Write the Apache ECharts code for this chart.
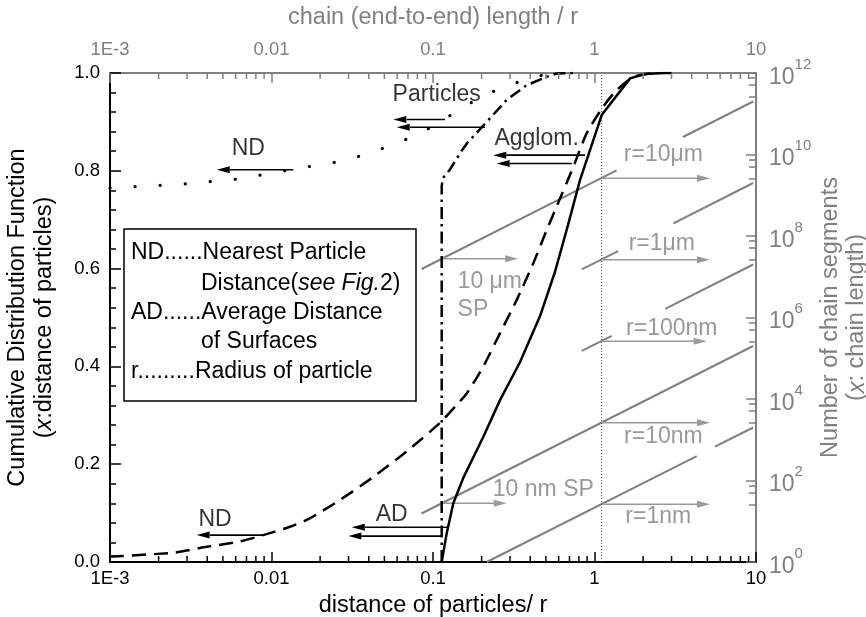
<!DOCTYPE html>
<html><head><meta charset="utf-8">
<script src="https://cdn.jsdelivr.net/npm/echarts@6/dist/echarts.min.js"></script>
<style>html,body{margin:0;padding:0;background:#fff;width:866px;height:617px;overflow:hidden}#c{width:866px;height:617px}</style>
</head><body><div id="c"></div>
<script>
// ---------- tick labels ----------
const xTickLabels = ['1E-3', '0.01', '0.1', '1', '10'];
const yTickLabels = ['0.0', '0.2', '0.4', '0.6', '0.8', '1.0'];
const xDecades = [0.001, 0.01, 0.1, 1];
const xMinorMultipliers = [2, 3, 4, 5, 6, 7, 8, 9];

// ---------- curves (left axis, CDF) ----------
// ND: nearest particle distance (dotted)
const ndX = [0.001, 0.00133, 0.00195, 0.00283, 0.00416, 0.0061, 0.00885, 0.0130, 0.0181, 0.0266, 0.0389, 0.0542, 0.0793, 0.0958, 0.140, 0.170, 0.195, 0.248, 0.360, 0.48, 0.6];
const ndY = [0.765, 0.767, 0.770, 0.773, 0.778, 0.783, 0.792, 0.802, 0.810, 0.819, 0.834, 0.851, 0.873, 0.888, 0.921, 0.938, 0.951, 0.965, 0.985, 0.996, 1.0];
// AD: average distance of surfaces (dashed)
const adX = [0.001, 0.00247, 0.00397, 0.00638, 0.00889, 0.0130, 0.0170, 0.0266, 0.0427, 0.0687, 0.110, 0.140, 0.162, 0.205, 0.260, 0.330, 0.418, 0.506, 0.583, 0.739, 0.895, 1.13, 1.37, 1.74, 2.30];
const adY = [0.011, 0.019, 0.031, 0.042, 0.055, 0.072, 0.088, 0.127, 0.174, 0.226, 0.284, 0.321, 0.345, 0.400, 0.468, 0.536, 0.611, 0.679, 0.727, 0.808, 0.877, 0.931, 0.965, 0.992, 1.0];
// dash-dot curve
const ddX = [0.1132, 0.1132, 0.1150, 0.127, 0.147, 0.162, 0.215, 0.286, 0.380, 0.505, 0.583, 0.75];
const ddY = [0.0, 0.768, 0.785, 0.802, 0.836, 0.856, 0.900, 0.945, 0.975, 0.992, 0.999, 1.0];
// solid curve
const solidX = [0.1132, 0.1216, 0.1336, 0.154, 0.205, 0.260, 0.346, 0.460, 0.569, 0.685, 0.813, 1.108, 1.66, 2.05, 2.73, 3.0];
const solidY = [0.0, 0.059, 0.120, 0.172, 0.256, 0.331, 0.409, 0.503, 0.593, 0.689, 0.781, 0.914, 0.989, 0.998, 1.0, 1.0];
// thin vertical reference line
const refLineX = [1.108, 1.108];
const refLineY = [0, 1];

// ---------- chain-segment lines (right axis) ----------
const chainSegX = [
  [0.085, 1.37], [3.53, 9.6],      // r=10um
  [0.834, 1.40], [3.08, 9.6],      // r=1um
  [0.834, 1.28], [2.74, 9.6],      // r=100nm
  [0.085, 9.6],                    // r=10nm
  [0.215, 4.30], [5.57, 9.6]       // r=1nm
];
const chainSegN = [
  [1.55e7, 4.07e9], [2.69e10, 2.0e11],
  [1.51e7, 4.27e7], [2.04e8, 2.0e9],
  [1.51e5, 3.55e5], [1.62e6, 2.0e7],
  [15.5, 2.0e5],
  [1, 398], [676, 2000]
];

// ---------- arrows ----------
const blackArrowTail = [0.1186, 0.210, 0.01365, 0.873, 0.723, 0.1245, 0.1132, 0.00889];
const blackArrowHead = [0.0568, 0.0596, 0.00458, 0.236, 0.248, 0.0314, 0.0299, 0.00344];
const blackArrowY    = [0.905, 0.889, 0.802, 0.832, 0.815, 0.071, 0.053, 0.055];
const grayArrowTail = [1.108, 1.108, 1.108, 1.108, 1.108, 0.1132, 0.1132];
const grayArrowHead = [5.19, 5.19, 4.95, 5.19, 5.19, 0.337, 0.286];
const grayArrowN    = [2.63e9, 2.63e7, 2.63e5, 2630, 26.3, 2.75e7, 27.5];

// ---------- annotations ----------
const blackLabelText = ['Particles', 'ND', 'Agglom.', 'AD', 'ND'];
const blackLabelX = [0.1054, 0.00718, 0.438, 0.0555, 0.00447];
const blackLabelY = [0.955, 0.846, 0.866, 0.096, 0.086];
const grayLabelText = ['r=10μm', 'r=1μm', 'r=100nm', 'r=10nm', 'r=1nm', '10 nm SP'];
const grayLabelX = [2.67, 2.61, 3.01, 2.67, 2.48, 0.482];
const grayLabelN = [1.0e10, 6.6e7, 5.4e5, 1190, 12.9, 58.5];
const grayLeftLabelText = ['10 μm', 'SP'];
const grayLeftLabelX = [0.141, 0.141];
const grayLeftLabelN = [7.6e6, 1.52e6];

const legendLines = ['ND......Nearest Particle', '{n|Distance(}{i|see Fig.}{n|2)}', 'AD......Average Distance', 'of Surfaces', 'r.........Radius of particle'];

// ---------- build ----------
const FONT = 'Liberation Sans, Arial, Helvetica, sans-serif';
const GRAY = '#808080';
const zip = (a, b) => a.map((v, i) => [v, b[i]]);
const xMinorTicks = [];
xDecades.forEach(d => xMinorMultipliers.forEach(m => xMinorTicks.push([d * m, 0])));

function arrowRenderer(color, width, headLen, headHalf) {
  return function (params, api) {
    const p1 = api.coord([api.value(0), api.value(2)]);
    const p2 = api.coord([api.value(1), api.value(2)]);
    const dir = p2[0] < p1[0] ? -1 : 1;
    const bx = p2[0] - dir * headLen;
    return { type: 'group', children: [
      { type: 'line', shape: { x1: p1[0], y1: p1[1], x2: bx, y2: p2[1] }, style: { stroke: color, lineWidth: width } },
      { type: 'polygon', shape: { points: [[p2[0], p2[1]], [bx, p2[1] - headHalf], [bx, p2[1] + headHalf]] }, style: { fill: color } }
    ] };
  };
}

const series = [];
chainSegX.forEach((sx, i) => {
  series.push({ type: 'line', xAxisIndex: 0, yAxisIndex: 1, showSymbol: false, symbol: 'none', silent: true, z: 2,
    data: zip(sx, chainSegN[i]), lineStyle: { color: GRAY, width: 2 } });
});
series.push({ type: 'line', xAxisIndex: 0, yAxisIndex: 0, symbol: 'none', silent: true, z: 2,
  data: zip(refLineX, refLineY), lineStyle: { color: '#444', width: 1, type: [1, 2] } });
series.push({ type: 'line', name: 'ND', symbol: 'none', z: 4, data: zip(ndX, ndY),
  lineStyle: { color: '#000', width: 3.2, type: [0.1, 25], cap: 'round' } });
series.push({ type: 'line', name: 'AD', symbol: 'none', z: 4, smooth: 0.2, data: zip(adX, adY),
  lineStyle: { color: '#000', width: 2.5, type: [14, 8] } });
series.push({ type: 'line', name: 'dashdot', symbol: 'none', z: 4, data: zip(ddX, ddY),
  lineStyle: { color: '#000', width: 2.5, type: [12, 5, 2.5, 5] } });
series.push({ type: 'line', name: 'solid', symbol: 'none', z: 4, data: zip(solidX, solidY),
  lineStyle: { color: '#000', width: 2.5 } });
series.push({ type: 'custom', xAxisIndex: 0, yAxisIndex: 0, z: 5, silent: true, clip: false,
  encode: { x: [0, 1], y: 2 },
  data: blackArrowTail.map((t, i) => [t, blackArrowHead[i], blackArrowY[i]]),
  renderItem: arrowRenderer('#000', 1.6, 13, 3.5) });
series.push({ type: 'custom', xAxisIndex: 0, yAxisIndex: 1, z: 3, silent: true, clip: false,
  encode: { x: [0, 1], y: 2 },
  data: grayArrowTail.map((t, i) => [t, grayArrowHead[i], grayArrowN[i]]),
  renderItem: arrowRenderer('#9a9a9a', 1.5, 13, 3.5) });
series.push({ type: 'custom', xAxisIndex: 0, yAxisIndex: 0, z: 6, silent: true, clip: false,
  encode: { x: 0, y: 1 }, data: xMinorTicks,
  renderItem: function (params, api) {
    const v = api.value(0);
    const b = api.coord([v, 0]);
    const t = api.coord([v, 1]);
    return { type: 'group', children: [
      { type: 'line', shape: { x1: b[0], y1: b[1], x2: b[0], y2: b[1] - 6 }, style: { stroke: '#000', lineWidth: 1.5 } },
      { type: 'line', shape: { x1: t[0], y1: t[1], x2: t[0], y2: t[1] + 6 }, style: { stroke: GRAY, lineWidth: 1.5 } }
    ] };
  } });
const labelSeries = (texts, xs, ys, yIdx, color, align) => ({
  type: 'scatter', xAxisIndex: 0, yAxisIndex: yIdx, symbolSize: 1, silent: true, z: 7,
  itemStyle: { color: 'transparent' },
  data: texts.map((t, i) => ({ name: t, value: [xs[i], ys[i]] })),
  label: { show: true, position: align === 'left' ? 'right' : 'inside', distance: 0, formatter: '{b}',
    fontSize: 23, color: color, fontFamily: FONT }
});
series.push(labelSeries(blackLabelText, blackLabelX, blackLabelY, 0, '#000'));
series.push(labelSeries(grayLabelText, grayLabelX, grayLabelN, 1, GRAY));
series.push(labelSeries(grayLeftLabelText, grayLeftLabelX, grayLeftLabelN, 1, GRAY, 'left'));

const xFmt = v => xTickLabels[Math.round(Math.log10(v)) + 3];
const option = {
  animation: false,
  textStyle: { fontFamily: FONT },
  grid: { left: 110, right: 110, top: 73, bottom: 55, containLabel: false, outerBoundsMode: 'none' },
  xAxis: [
    { type: 'log', logBase: 10, min: 0.001, max: 10, interval: 1, position: 'bottom',
      axisLine: { onZero: false, lineStyle: { color: '#000', width: 2 } },
      axisTick: { inside: true, length: 10, lineStyle: { color: '#000', width: 1.5 } },
      minorTick: { show: false }, splitLine: { show: false },
      axisLabel: { color: '#000', fontSize: 18.5, margin: 7, formatter: xFmt, hideOverlap: false },
      name: 'distance of particles/ r', nameLocation: 'middle', nameGap: 32,
      nameTextStyle: { fontSize: 23.5, color: '#000' } },
    { type: 'log', logBase: 10, min: 0.001, max: 10, interval: 1, position: 'top',
      axisLine: { onZero: false, lineStyle: { color: GRAY, width: 2 } },
      axisTick: { inside: true, length: 10, lineStyle: { color: GRAY, width: 1.5 } },
      minorTick: { show: false }, splitLine: { show: false },
      axisLabel: { color: GRAY, fontSize: 18.5, margin: 14, formatter: xFmt },
      name: 'chain (end-to-end) length / r', nameLocation: 'middle', nameGap: 43,
      nameTextStyle: { fontSize: 23.5, color: GRAY } }
  ],
  yAxis: [
    { type: 'value', min: 0, max: 1, interval: 0.2, position: 'left',
      axisLine: { onZero: false, lineStyle: { color: '#000', width: 2 } },
      axisTick: { inside: true, length: 11, lineStyle: { color: '#000', width: 1.5 } },
      minorTick: { show: true, splitNumber: 5, length: 6, lineStyle: { color: '#000', width: 1.5 } },
      splitLine: { show: false },
      axisLabel: { color: '#000', fontSize: 18.5, margin: 10, formatter: v => yTickLabels[Math.round(v * 5)] },
      name: 'Cumulative Distribution Function\n({i|x}:distance of particles)', nameLocation: 'middle', nameGap: 52, nameRotate: 90,
      nameTextStyle: { fontSize: 23.5, color: '#000', lineHeight: 27, rich: { i: { fontStyle: 'italic', fontSize: 23.5, color: '#000' } } } },
    { type: 'log', logBase: 10, min: 1, max: 1e12, interval: 2, splitNumber: 6, position: 'right',
      axisLine: { onZero: false, lineStyle: { color: GRAY, width: 2 } },
      axisTick: { inside: true, length: 10, lineStyle: { color: GRAY, width: 1.5 } },
      minorTick: { show: true, splitNumber: 4, length: 7, lineStyle: { color: GRAY, width: 1.5 } },
      splitLine: { show: false },
      axisLabel: { margin: 13, formatter: v => '{b|10}{s|' + Math.round(Math.log10(v)) + '}',
        rich: { b: { fontSize: 23, color: GRAY, verticalAlign: 'bottom', lineHeight: 32 },
                s: { fontSize: 15, color: GRAY, verticalAlign: 'top' } } },
      name: 'Number of chain segments\n({i|x}: chain length)', nameLocation: 'middle', nameGap: 62, nameRotate: 90,
      nameMoveOverlap: false,
      nameTextStyle: { fontSize: 23.5, color: GRAY, lineHeight: 26, rich: { i: { fontStyle: 'italic', fontSize: 23.5, color: GRAY } } } }
  ],
  graphic: [
    { type: 'rect', z: 10, shape: { x: 124, y: 229, width: 292, height: 172 }, style: { fill: '#fff', stroke: '#000', lineWidth: 1.5 } },
    { type: 'text', z: 11, x: 131, y: 253, style: { text: legendLines[0], font: '23px ' + FONT, fill: '#000', verticalAlign: 'middle' } },
    { type: 'text', z: 11, x: 201, y: 284, style: { text: legendLines[1], fill: '#000', verticalAlign: 'middle',
        rich: { n: { fontSize: 23, fontFamily: FONT }, i: { fontSize: 23, fontFamily: FONT, fontStyle: 'italic' } } } },
    { type: 'text', z: 11, x: 131, y: 313, style: { text: legendLines[2], font: '23px ' + FONT, fill: '#000', verticalAlign: 'middle' } },
    { type: 'text', z: 11, x: 201, y: 342, style: { text: legendLines[3], font: '23px ' + FONT, fill: '#000', verticalAlign: 'middle' } },
    { type: 'text', z: 11, x: 131, y: 372, style: { text: legendLines[4], font: '23px ' + FONT, fill: '#000', verticalAlign: 'middle' } }
  ],
  series: series
};
const chart = echarts.init(document.getElementById('c'), null, { renderer: 'canvas' });
chart.setOption(option);
</script>
</body></html>
